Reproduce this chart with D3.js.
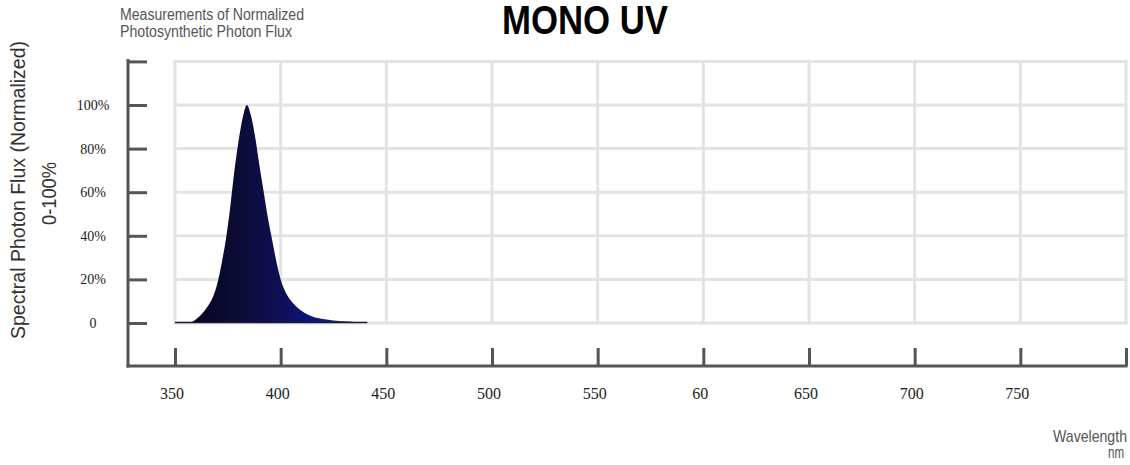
<!DOCTYPE html>
<html>
<head>
<meta charset="utf-8">
<script src="https://cdn.jsdelivr.net/npm/d3@7"></script>
<style>
  body { margin: 0; background: #fff; }
  svg { display: block; }
</style>
</head>
<body>
<svg id="chart" width="1130" height="465"></svg>
<script>
"use strict";

// spectrum (nm, % of peak)
const wavelengths = [350, 355, 358, 361, 365, 368, 370, 372, 374, 376, 378, 380, 382, 384, 386, 388, 390, 392, 394, 396, 398, 400, 403, 406, 410, 415, 420, 425, 430, 435, 441];
const fluxValues  = [0,   0,   0.5, 2.5, 7,   12,  18,  27,  38,  52,  69,  83,  94,  100, 95,  85,  72,  60,  48,  38,  28,  20,  13,  9,   5.5, 3,   1.8, 1.2, 0.8, 0.5, 0.3];

// axes
const xTicks = [350, 400, 450, 500, 550, 600, 650, 700, 750, 800];
const xTickLabels = ["350", "400", "450", "500", "550", "60", "650", "700", "750", ""];
const yTicks = [0, 20, 40, 60, 80, 100, 120];
const yTickLabels = ["0", "20%", "40%", "60%", "80%", "100%", ""];

const svg = d3.select("#chart");
// narrow sans look: Arial metrics squeezed with textLength
const sans = "'Liberation Sans', Arial, sans-serif";
const serif = "'Liberation Serif', 'DejaVu Serif', serif";

const x = d3.scaleLinear().domain([350, 800]).range([175, 1126]);
const y = d3.scaleLinear().domain([0, 120]).range([323, 61.4]);

// gradient for the peak
const defs = svg.append("defs");
const grad = defs.append("linearGradient").attr("id", "uvFill")
    .attr("x1", "0%").attr("x2", "100%").attr("y1", "0%").attr("y2", "0%");
[["0%", "#04041a"], ["35%", "#0c0c38"], ["55%", "#0f0f55"], ["70%", "#0b1480"], ["85%", "#222258"], ["100%", "#6a6a80"]]
    .forEach(s => grad.append("stop").attr("offset", s[0]).attr("stop-color", s[1]));

// grid
const grid = svg.append("g").attr("stroke", "#e3e3e3").attr("stroke-width", 3);
grid.selectAll("line.v").data(xTicks).enter().append("line")
    .attr("x1", d => x(d)).attr("x2", d => x(d))
    .attr("y1", y(120) - 1.5).attr("y2", y(0) + 1.5);
grid.selectAll("line.h").data(yTicks).enter().append("line")
    .attr("y1", d => y(d)).attr("y2", d => y(d))
    .attr("x1", x(350) - 1.5).attr("x2", x(800) + 1.5);

// area
const pts = wavelengths.map((w, i) => ({ w: w, v: fluxValues[i] }));
const area = d3.area()
    .x(d => x(d.w))
    .y0(y(0))
    .y1(d => y(d.v))
    .curve(d3.curveMonotoneX);
svg.append("path").datum(pts)
    .attr("d", area)
    .attr("fill", "url(#uvFill)");
svg.append("line")
    .attr("x1", x(350)).attr("x2", x(441))
    .attr("y1", y(0) - 0.5).attr("y2", y(0) - 0.5)
    .attr("stroke", "#1a1a3a").attr("stroke-width", 1.5);

// y axis (ticks pointing right)
const axisColor = "#555";
const yAxis = svg.append("g").attr("transform", "translate(128,0)")
    .call(d3.axisRight(y).tickValues(yTicks).tickSize(19).tickFormat(""));
yAxis.select(".domain").remove();
yAxis.selectAll(".tick line").attr("stroke", axisColor).attr("stroke-width", 3);
svg.append("line").attr("x1", 128).attr("x2", 128).attr("y1", 59).attr("y2", 367.5)
    .attr("stroke", axisColor).attr("stroke-width", 3);

svg.append("g").selectAll("text").data(yTicks).enter().append("text")
    .attr("x", 93).attr("y", d => y(d)).attr("dy", "0.35em")
    .attr("text-anchor", "middle")
    .style("font-family", serif).style("font-size", "14px").attr("fill", "#222")
    .text((d, i) => yTickLabels[i]);

// x axis (ticks pointing up)
const xAxis = svg.append("g").attr("transform", "translate(0,366)")
    .call(d3.axisTop(x).tickValues(xTicks).tickSize(18).tickFormat(""));
xAxis.select(".domain").remove();
xAxis.selectAll(".tick line").attr("stroke", axisColor).attr("stroke-width", 3);
svg.append("line").attr("x1", 126.5).attr("x2", 1127.5).attr("y1", 366).attr("y2", 366)
    .attr("stroke", axisColor).attr("stroke-width", 3);

svg.append("g").selectAll("text").data(xTicks).enter().append("text")
    .attr("x", d => x(d) - 3).attr("y", 399)
    .attr("text-anchor", "middle")
    .style("font-family", serif).style("font-size", "16px").attr("fill", "#222")
    .text((d, i) => xTickLabels[i]);

// titles
svg.append("text").attr("x", 585).attr("y", 34)
    .attr("text-anchor", "middle")
    .attr("textLength", 166).attr("lengthAdjust", "spacingAndGlyphs")
    .style("font-family", sans).style("font-weight", "bold").style("font-size", "41px")
    .attr("fill", "#000").text("MONO UV");

const sub = svg.append("g").style("font-family", sans).style("font-size", "16px").attr("fill", "#555");
sub.append("text").attr("x", 120).attr("y", 20)
    .attr("textLength", 184).attr("lengthAdjust", "spacingAndGlyphs")
    .text("Measurements of Normalized");
sub.append("text").attr("x", 120).attr("y", 37)
    .attr("textLength", 172).attr("lengthAdjust", "spacingAndGlyphs")
    .text("Photosynthetic Photon Flux");

const yTitle = svg.append("g")
    .attr("transform", "translate(0,190) rotate(-90)")
    .style("font-family", sans).style("font-size", "20px").attr("fill", "#333");
yTitle.append("text").attr("x", -149).attr("y", 25)
    .attr("textLength", 298).attr("lengthAdjust", "spacingAndGlyphs")
    .text("Spectral Photon Flux (Normalized)");
yTitle.append("text").attr("x", -35).attr("y", 56)
    .attr("textLength", 63).attr("lengthAdjust", "spacingAndGlyphs")
    .text("0-100%");

const xTitle = svg.append("g").style("font-family", sans).attr("fill", "#555");
xTitle.append("text").attr("x", 1053).attr("y", 442).style("font-size", "17px")
    .attr("textLength", 74).attr("lengthAdjust", "spacingAndGlyphs")
    .text("Wavelength");
xTitle.append("text").attr("x", 1108).attr("y", 458).style("font-size", "16px")
    .attr("textLength", 16).attr("lengthAdjust", "spacingAndGlyphs")
    .text("nm");
</script>
</body>
</html>
